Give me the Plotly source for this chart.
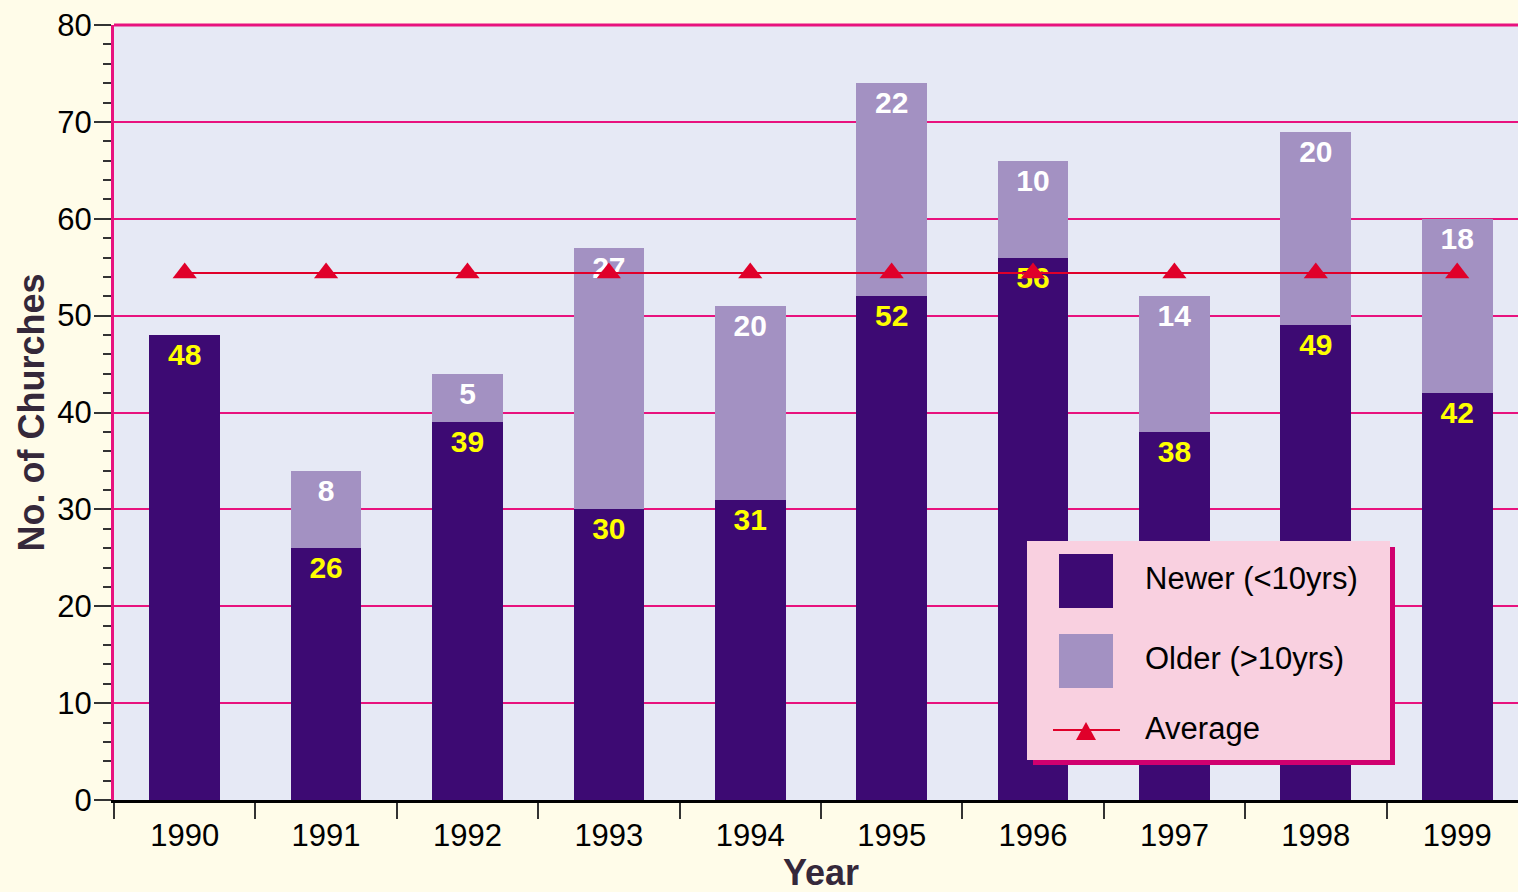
import plotly.graph_objects as go

years = ["1990", "1991", "1992", "1993", "1994", "1995", "1996", "1997", "1998", "1999"]
newer = [48, 26, 39, 30, 31, 52, 56, 38, 49, 42]
older = [0, 8, 5, 27, 20, 22, 10, 14, 20, 18]
average = [54.4] * 10

DARK = "#3D0A73"
LIGHT = "#A391C2"
RED = "#E0002A"
MAG = "#E8127E"
FONT = "Liberation Sans, Arial, sans-serif"

fig = go.Figure()
fig.add_trace(go.Bar(
    x=years, y=newer, name="Newer (<10yrs)", marker=dict(color=DARK, line=dict(width=0)),
    text=[str(v) for v in newer], textposition="inside", insidetextanchor="end",
    textfont=dict(color="#FFFF00", size=30, family=FONT, weight="bold"),
    constraintext="none", textangle=0,
))
fig.add_trace(go.Bar(
    x=years, y=older, name="Older (>10yrs)", marker=dict(color=LIGHT, line=dict(width=0)),
    text=[str(v) if v else "" for v in older], textposition="inside", insidetextanchor="end",
    textfont=dict(color="white", size=30, family=FONT, weight="bold"),
    constraintext="none", textangle=0,
))
fig.add_trace(go.Scatter(
    x=years, y=average, name="Average", mode="lines+markers",
    line=dict(color=RED, width=2),
    marker=dict(symbol="triangle-up", size=21, color=RED),
))

# plot area pixel geometry
L, R, T, B = 114, 1518, 25, 800
W, H = R - L, B - T
def px(x):
    return (x - L) / W
def py(y):
    return (B - y) / H

shapes = [
    dict(type="line", xref="paper", yref="paper", x0=0, x1=1, y0=1, y1=1,
         line=dict(color=MAG, width=3)),
    # legend shadow and box
    dict(type="rect", xref="paper", yref="paper", x0=px(1033), x1=px(1395), y0=py(765), y1=py(547),
         fillcolor="#D0006F", line=dict(width=0)),
    dict(type="rect", xref="paper", yref="paper", x0=px(1027), x1=px(1390), y0=py(760), y1=py(541),
         fillcolor="#F9D0E0", line=dict(width=0)),
    dict(type="rect", xref="paper", yref="paper", x0=px(1059), x1=px(1113), y0=py(608), y1=py(554),
         fillcolor=DARK, line=dict(width=0)),
    dict(type="rect", xref="paper", yref="paper", x0=px(1059), x1=px(1113), y0=py(688), y1=py(634),
         fillcolor=LIGHT, line=dict(width=0)),
    dict(type="line", xref="paper", yref="paper", x0=px(1053), x1=px(1120), y0=py(730), y1=py(730),
         line=dict(color=RED, width=2)),
    dict(type="path", xref="paper", yref="paper",
         path=f"M {px(1076)} {py(740)} L {px(1096)} {py(740)} L {px(1086)} {py(722)} Z",
         fillcolor=RED, line=dict(width=0)),
]
annotations = [
    dict(xref="paper", yref="paper", x=px(1143), y=py(y), text=t, showarrow=False,
         xanchor="left", yanchor="middle", font=dict(size=31, color="black", family=FONT))
    for t, y in [("Newer (<10yrs)", 578), ("Older (>10yrs)", 658), ("Average", 728)]
]
annotations.append(dict(xref="paper", yref="paper", x=px(821), y=py(872), text="<b>Year</b>",
                        showarrow=False, xanchor="center", yanchor="middle",
                        font=dict(size=36, color="#35283A", family=FONT)))

fig.update_layout(
    barmode="stack", bargap=0.5, showlegend=False,
    width=1518, height=892,
    margin=dict(l=L, r=1518 - R, t=T, b=892 - B, pad=0),
    paper_bgcolor="#FFFCE9", plot_bgcolor="#E6E9F5",
    font=dict(family=FONT, color="black", size=31),
    shapes=shapes, annotations=annotations,
    xaxis=dict(type="category", range=[-0.5, 9.43], tickson="boundaries", ticks="outside", ticklen=16,
               tickcolor="#333333", tickwidth=2, showline=True, linecolor="black", linewidth=3,
               showgrid=False, tickfont=dict(size=31), ticklabelstandoff=6),
    yaxis=dict(range=[0, 80], dtick=10, ticks="outside", ticklen=17, tickcolor="#333333", tickwidth=2,
               showline=True, linecolor=MAG, linewidth=3, gridcolor=MAG, gridwidth=1.5,
               zeroline=False, tickfont=dict(size=31), ticklabelstandoff=-4,
               minor=dict(dtick=2, ticks="outside", ticklen=8, tickcolor="#333333", tickwidth=1.5, showgrid=False),
               title=dict(text="<b>No. of Churches</b>", font=dict(size=36, color="#35283A"), standoff=2)),
)

fig.write_html("out.html", config={"displayModeBar": False},
               post_script="document.body.style.margin='0';document.body.style.overflow='hidden';")
